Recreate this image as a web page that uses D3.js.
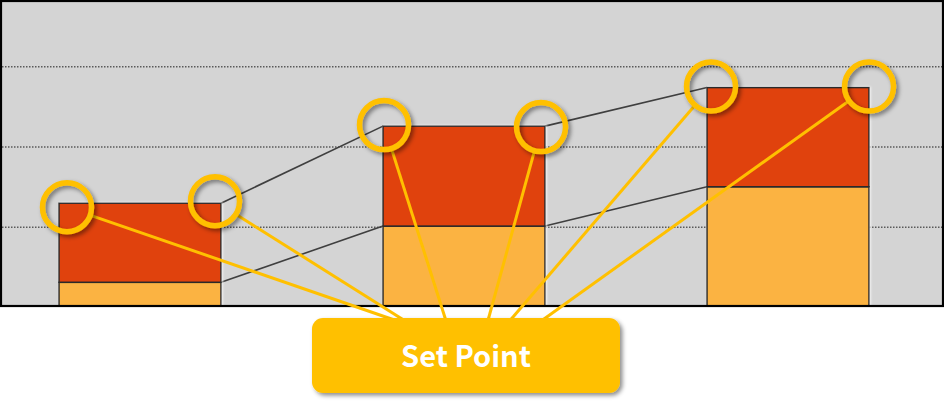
<!DOCTYPE html>
<html>
<head>
<meta charset="utf-8">
<script src="https://cdn.jsdelivr.net/npm/d3@7/dist/d3.min.js"></script>
<style>
  html, body { margin: 0; padding: 0; background: #ffffff; }
  svg { display: block; }
</style>
</head>
<body>
<svg id="chart" width="944" height="406"></svg>
<script>
// ---- data ----
const categories = ["Q1", "Q2", "Q3"];
const lowerValues = [6.3, 20.3, 30.1];
const upperValues = [19.7, 24.9, 24.7];
const gridTicks = [20, 40, 60];
const calloutLabel = "Set Point";

// ---- layout ----
const W = 944, H = 406;
const plot = { left: 2, top: 2, right: 942, bottom: 305 };
const ringNudge = [[8, 4], [-6, -2], [1, -1], [-4, 1], [4, -1], [0, -1]];
const fanTargetsX = [406, 410, 447, 487, 507, 537];
const box = { x: 312, y: 318, w: 308, h: 75, r: 11 };

const svg = d3.select("#chart");
const defs = svg.append("defs");

defs.append("clipPath").attr("id", "plotClip")
  .append("rect")
  .attr("x", plot.left).attr("y", plot.top)
  .attr("width", plot.right - plot.left).attr("height", plot.bottom - plot.top);

const sh = defs.append("filter").attr("id", "shadow")
  .attr("x", "-30%").attr("y", "-30%").attr("width", "160%").attr("height", "160%");
sh.append("feDropShadow").attr("dx", 2.5).attr("dy", 2.5).attr("stdDeviation", 2)
  .attr("flood-color", "#000").attr("flood-opacity", 0.45);

const glow = defs.append("filter").attr("id", "glow")
  .attr("x", "-10%").attr("y", "-10%").attr("width", "120%").attr("height", "120%");
glow.append("feDropShadow").attr("dx", 1).attr("dy", 0).attr("stdDeviation", 0.8)
  .attr("flood-color", "#ffffff").attr("flood-opacity", 0.8);

// ---- scales ----
const x = d3.scaleBand().domain(categories)
  .range([-22, 950]).paddingInner(0.5).paddingOuter(0.25);
const y = d3.scaleLinear().domain([0, 60]).range([307.6, 66.7]);
const bw = x.bandwidth();

// ---- background ----
svg.append("rect").attr("x", plot.left).attr("y", plot.top)
  .attr("width", plot.right - plot.left).attr("height", plot.bottom - plot.top)
  .attr("fill", "#d4d4d4");

const g = svg.append("g").attr("clip-path", "url(#plotClip)");

// gridlines
g.selectAll("line.grid").data(gridTicks).enter().append("line")
  .attr("class", "grid")
  .attr("x1", plot.left).attr("x2", plot.right)
  .attr("y1", d => y(d)).attr("y2", d => y(d))
  .attr("stroke", "#5a5a5a").attr("stroke-width", 1.5)
  .attr("stroke-dasharray", "1.5,1.5");

// stacked data
const stacked = categories.map((c, i) => ({
  c, lower: lowerValues[i], total: lowerValues[i] + upperValues[i]
}));

// series lines
const seriesLines = [];
for (let i = 0; i < stacked.length - 1; i++) {
  const a = stacked[i], b = stacked[i + 1];
  seriesLines.push({ x1: x(a.c) + bw, y1: y(a.total), x2: x(b.c), y2: y(b.total) });
  seriesLines.push({ x1: x(a.c) + bw, y1: y(a.lower), x2: x(b.c), y2: y(b.lower) });
}
g.selectAll("line.series").data(seriesLines).enter().append("line")
  .attr("class", "series")
  .attr("x1", d => d.x1).attr("y1", d => d.y1)
  .attr("x2", d => d.x2).attr("y2", d => d.y2)
  .attr("stroke", "#3f3f3f").attr("stroke-width", 1.6);

// bars
const bars = g.selectAll("g.bar").data(stacked).enter().append("g")
  .attr("class", "bar").attr("filter", "url(#glow)");
bars.append("rect")
  .attr("x", d => x(d.c)).attr("width", bw)
  .attr("y", d => y(d.lower)).attr("height", d => y(0) - y(d.lower))
  .attr("fill", "#fbb343").attr("stroke", "#2a2a2a").attr("stroke-width", 1.5);
bars.append("rect")
  .attr("x", d => x(d.c)).attr("width", bw)
  .attr("y", d => y(d.total)).attr("height", d => y(d.lower) - y(d.total))
  .attr("fill", "#e0420a").attr("stroke", "#2a2a2a").attr("stroke-width", 1.5);

// frame
svg.append("rect").attr("x", 1).attr("y", 1).attr("width", 942).attr("height", 305)
  .attr("fill", "none").attr("stroke", "#000").attr("stroke-width", 2.2);

// ---- callout rings & fan lines ----
const R = 24.5;
const rings = [];
stacked.forEach(d => {
  rings.push({ cx: x(d.c), cy: y(d.total) });
  rings.push({ cx: x(d.c) + bw, cy: y(d.total) });
});
rings.forEach((r, i) => {
  r.cx += ringNudge[i][0]; r.cy += ringNudge[i][1];
  const tx = fanTargetsX[i], ty = box.y + 6;
  const dx = tx - r.cx, dy = ty - r.cy, len = Math.hypot(dx, dy);
  r.sx = r.cx + dx / len * (R + 2); r.sy = r.cy + dy / len * (R + 2);
  r.tx = tx; r.ty = ty;
});

svg.selectAll("line.fan").data(rings).enter().append("line")
  .attr("class", "fan")
  .attr("x1", d => d.sx).attr("y1", d => d.sy)
  .attr("x2", d => d.tx).attr("y2", d => d.ty)
  .attr("stroke", "#ffc000").attr("stroke-width", 3);

svg.selectAll("circle.ring").data(rings).enter().append("circle")
  .attr("class", "ring")
  .attr("cx", d => d.cx).attr("cy", d => d.cy).attr("r", R)
  .attr("fill", "none").attr("stroke", "#ffc000").attr("stroke-width", 5.5)
  .attr("filter", "url(#shadow)");

// callout box
svg.append("rect")
  .attr("x", box.x).attr("y", box.y).attr("width", box.w).attr("height", box.h)
  .attr("rx", box.r).attr("ry", box.r)
  .attr("fill", "#ffc000").attr("filter", "url(#shadow)");
svg.append("text")
  .attr("x", box.x + box.w / 2).attr("y", 367)
  .attr("text-anchor", "middle")
  .attr("font-family", "'Noto Sans CJK KR', 'Noto Sans', sans-serif")
  .attr("font-weight", "bold").attr("font-size", 29)
  .attr("fill", "#ffffff")
  .text(calloutLabel);
</script>
</body>
</html>
